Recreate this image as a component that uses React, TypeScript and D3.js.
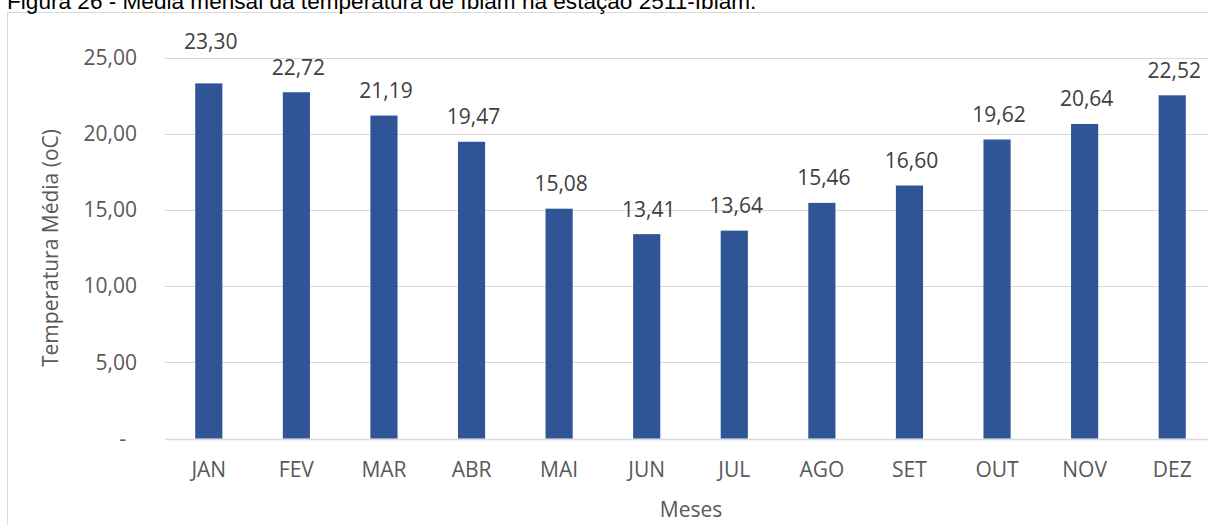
import React from "react";
import * as d3 from "d3";

const months = ["JAN", "FEV", "MAR", "ABR", "MAI", "JUN", "JUL", "AGO", "SET", "OUT", "NOV", "DEZ"];
const temperatures = [23.3, 22.72, 21.19, 19.47, 15.08, 13.41, 13.64, 15.46, 16.6, 19.62, 20.64, 22.52];
const yTicks = [0, 5, 10, 15, 20, 25];
const titleText = "Figura 26 - Média mensal da temperatura de Ibiam na estação 2511-Ibiam.";
const yAxisTitle = "Temperatura Média (oC)";
const xAxisTitle = "Meses";

const W = 1208;
const H = 525;
const FONT = "'Open Sans', 'Noto Sans', sans-serif";

const fmt = (v: number) => (v === 0 ? "-" : v.toFixed(2).replace(".", ","));

export default function App() {
  const x = d3.scaleBand<string>().domain(months).range([165, 1216]).paddingInner(0.69).paddingOuter(0.345);
  const y = d3.scaleLinear().domain([0, 25]).range([438.5, 57.5]);

  return (
    <svg
      width={W}
      height={H}
      viewBox={`0 0 ${W} ${H}`}
      style={{ position: "fixed", left: 0, top: 0, background: "#fff" }}
    >
      <rect x={0} y={0} width={W} height={H} fill="#fff" />
      {/* chart frame */}
      <line x1={7.5} y1={12.5} x2={W} y2={12.5} stroke="#d9d9d9" strokeWidth={1} />
      <line x1={7.5} y1={12.5} x2={7.5} y2={H} stroke="#d9d9d9" strokeWidth={1} />
      {/* title (cut at top) */}
      <text x={7} y={9} fontFamily="'Liberation Sans', Arial, sans-serif" fontSize={22.6} fill="#000">
        {titleText}
      </text>
      {/* gridlines */}
      {yTicks.map((t) => (
        <line
          key={t}
          x1={165}
          x2={W}
          y1={Math.round(y(t)) + 0.5}
          y2={Math.round(y(t)) + 0.5}
          stroke="#d9d9d9"
          strokeWidth={t === 0 ? 1.3 : 1}
        />
      ))}
      {/* y tick labels */}
      {yTicks.map((t) => (
        <text
          key={t}
          x={137}
          dx={t === 0 ? -11 : 0}
          y={y(t) + 7.3}
          textAnchor="end"
          fontFamily={FONT}
          fontSize={21}
          fill="#595959"
        >
          {fmt(t)}
        </text>
      ))}
      {/* bars */}
      {months.map((m, i) => (
        <rect
          key={m}
          x={x(m)}
          y={y(temperatures[i])}
          width={x.bandwidth()}
          height={y(0) - y(temperatures[i])}
          fill="#2F5597"
        />
      ))}
      {/* data labels */}
      {months.map((m, i) => (
        <text
          key={m}
          x={(x(m) as number) + x.bandwidth() / 2 + 2}
          y={y(temperatures[i]) - (i === 0 ? 34 : 17.5)}
          textAnchor="middle"
          fontFamily={FONT}
          fontSize={21}
          fill="#404040"
        >
          {fmt(temperatures[i])}
        </text>
      ))}
      {/* x tick labels */}
      {months.map((m) => (
        <text
          key={m}
          x={(x(m) as number) + x.bandwidth() / 2}
          y={477}
          textAnchor="middle"
          fontFamily={FONT}
          fontSize={21}
          fill="#595959"
        >
          {m}
        </text>
      ))}
      {/* axis titles */}
      <text
        transform={`translate(58, ${(y(0) + y(25)) / 2}) rotate(-90)`}
        textAnchor="middle"
        fontFamily={FONT}
        fontSize={21}
        fill="#595959"
      >
        {yAxisTitle}
      </text>
      <text x={691} y={517} textAnchor="middle" fontFamily={FONT} fontSize={21} fill="#595959">
        {xAxisTitle}
      </text>
    </svg>
  );
}
